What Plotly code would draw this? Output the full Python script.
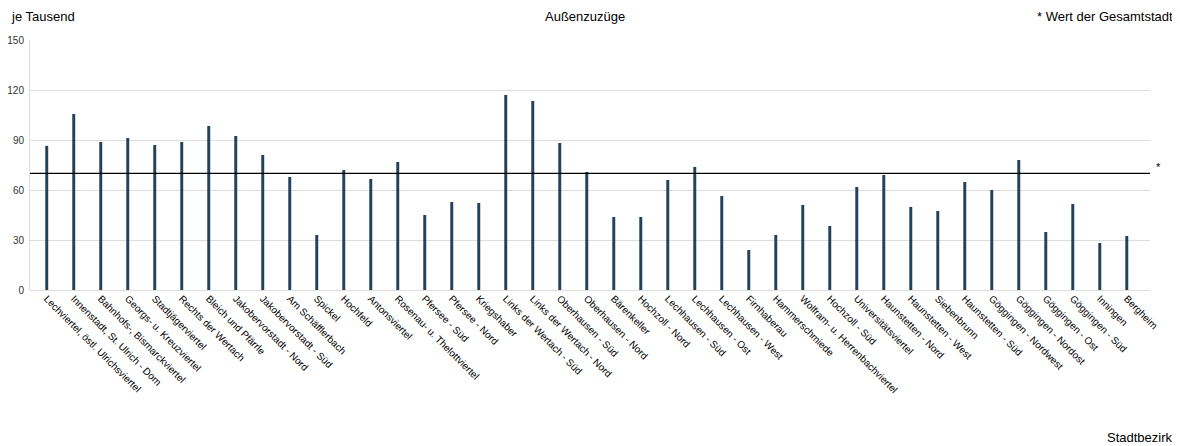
import plotly.graph_objects as go

districts = [
    "Lechviertel, östl. Ulrichsviertel", "Innenstadt, St. Ulrich - Dom",
    "Bahnhofs-, Bismarckviertel", "Georgs- u. Kreuzviertel", "Stadtjägerviertel",
    "Rechts der Wertach", "Bleich und Pfärrle", "Jakobervorstadt - Nord",
    "Jakobervorstadt - Süd", "Am Schäfflerbach", "Spickel", "Hochfeld",
    "Antonsviertel", "Rosenau- u. Thelottviertel", "Pfersee - Süd", "Pfersee - Nord",
    "Kriegshaber", "Links der Wertach - Süd", "Links der Wertach - Nord",
    "Oberhausen - Süd", "Oberhausen - Nord", "Bärenkeller", "Hochzoll - Nord",
    "Lechhausen - Süd", "Lechhausen - Ost", "Lechhausen - West", "Firnhaberau",
    "Hammerschmiede", "Wolfram- u. Herrenbachviertel", "Hochzoll - Süd",
    "Universitätsviertel", "Haunstetten - Nord", "Haunstetten - West", "Siebenbrunn",
    "Haunstetten - Süd", "Göggingen - Nordwest", "Göggingen - Nordost",
    "Göggingen - Ost", "Göggingen - Süd", "Inningen", "Bergheim",
]
values = [
    86.5, 105.6, 88.8, 91.2, 87.0, 88.8, 98.4, 92.4, 81.0, 67.8, 33.0, 72.0,
    66.6, 76.8, 45.0, 52.8, 52.2, 117.0, 113.4, 88.2, 70.8, 43.8, 43.8, 66.0,
    73.8, 56.4, 24.0, 33.0, 51.0, 38.4, 61.8, 69.0, 49.8, 47.4, 64.8, 60.0,
    78.0, 34.8, 51.6, 28.2, 32.4,
]
city_value = 70.0
y_ticks = [0, 30, 60, 90, 120, 150]

FONT = "Liberation Sans, Arial, sans-serif"
n = len(districts)
x_idx = list(range(n))

fig = go.Figure()
fig.add_trace(go.Bar(
    x=x_idx, y=values, width=0.11,
    marker=dict(color="#23425E", line=dict(width=0)),
    hoverinfo="x+y",
))
fig.add_shape(type="line", xref="paper", yref="y", x0=0, x1=1,
              y0=city_value, y1=city_value,
              line=dict(color="#000000", width=1.3))
fig.add_annotation(xref="paper", yref="y", x=1.0, y=city_value, text="*",
                   showarrow=False, xanchor="left", yanchor="bottom",
                   xshift=4, yshift=-2, font=dict(family=FONT, size=11, color="#000"))

fig.add_annotation(xref="paper", yref="paper", x=0, y=1.0, yshift=24, xshift=-21,
                   text="je Tausend", showarrow=False, xanchor="left", yanchor="middle",
                   font=dict(family=FONT, size=13, color="#000"))
fig.add_annotation(xref="paper", yref="paper", x=0.5, y=1.0, yshift=24, xshift=-5,
                   text="Außenzuzüge", showarrow=False, xanchor="center", yanchor="middle",
                   font=dict(family=FONT, size=13, color="#000"))
fig.add_annotation(xref="paper", yref="paper", x=1.0, y=1.0, yshift=24, xshift=25,
                   text="* Wert der Gesamtstadt", showarrow=False, xanchor="right",
                   yanchor="middle", font=dict(family=FONT, size=13, color="#000"))
fig.add_annotation(xref="paper", yref="paper", x=1.0, y=0, yshift=-147, xshift=25,
                   text="Stadtbezirk", showarrow=False, xanchor="right",
                   yanchor="middle", font=dict(family=FONT, size=13, color="#000"))

# page body has an 8px default margin, so the figure is sized/offset to compensate
fig.update_layout(
    width=1172, height=438,
    margin=dict(l=22, r=30, t=32, b=156, autoexpand=False),
    paper_bgcolor="white", plot_bgcolor="white",
    showlegend=False,
    font=dict(family=FONT, size=10, color="#000"),
    xaxis=dict(
        range=[-0.62, n - 1 + 0.86], automargin=False,
        tickmode="array", tickvals=x_idx, ticktext=districts,
        tickangle=45, tickfont=dict(family=FONT, size=10, color="#000"),
        showgrid=False, zeroline=False, showline=False, ticks="",
        fixedrange=True,
    ),
    yaxis=dict(
        range=[0, 150], tickmode="array", tickvals=y_ticks, automargin=False,
        tickfont=dict(family=FONT, size=10, color="#333"),
        showgrid=True, gridcolor="#DDDDDD", gridwidth=1,
        zeroline=True, zerolinecolor="#DDDDDD", zerolinewidth=1,
        showline=True, linecolor="#DDDDDD", linewidth=1,
        ticks="", ticklabelstandoff=3,
    ),
)

fig.write_html("out.html")
